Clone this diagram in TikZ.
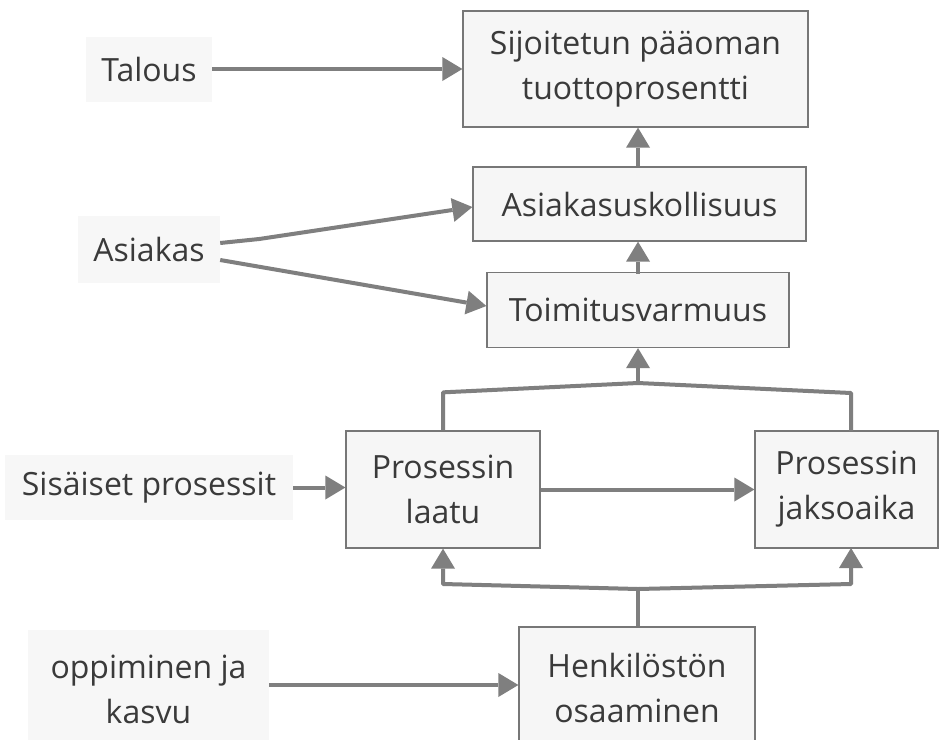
\documentclass[tikz,border=0pt]{standalone}
\usepackage{fontspec}
\setmainfont{Open Sans}
\usetikzlibrary{arrows.meta,calc}
\definecolor{linegray}{HTML}{7F7F7F}
\definecolor{boxline}{HTML}{777777}
\definecolor{boxfill}{HTML}{F6F6F6}
\definecolor{labelfill}{HTML}{F7F7F7}
\definecolor{txt}{HTML}{3A3A3A}
\begin{document}
\begin{tikzpicture}[x=1pt,y=-1pt,
  every node/.style={font=\fontsize{32}{45}\selectfont, text=txt, align=center, inner sep=0pt},
  box/.style={draw=boxline, line width=1.3pt, fill=boxfill},
  lbl/.style={fill=labelfill},
  conn/.style={draw=linegray, line width=4pt},
  arr/.style={conn, -{Triangle[length=20pt,width=24pt,line width=0pt]}}]
\clip (0,0) rectangle (941,739);
\fill[white] (0,0) rectangle (941,739);

% perspective labels
\node[lbl, minimum width=126pt, minimum height=65pt] (tal) at (149,69) {Talous};
\node[lbl, minimum width=142pt, minimum height=67pt] (asi) at (149,249.5) {Asiakas};
\node[lbl, minimum width=288pt, minimum height=65pt] (sis) at (149,487.5) {Sisäiset prosessit};
\node[lbl, minimum width=241pt, minimum height=119pt] (opp) at (148.5,689.5) {oppiminen ja\\kasvu};

% measures
\node[box, minimum width=345pt, minimum height=116pt] (sij) at (635.5,69) {Sijoitetun pääoman\\tuottoprosentti};
\node[box, minimum width=333pt, minimum height=74pt] (asu) at (639.5,204) {Asiakasuskollisuus};
\node[box, minimum width=302pt, minimum height=75pt] (toi) at (638,310) {Toimitusvarmuus};
\node[box, minimum width=194pt, minimum height=117pt] (laa) at (443,489.5) {Prosessin\\laatu};
\node[box, minimum width=183pt, minimum height=117pt] (jak) at (846.5,489.5) {Prosessin\\jaksoaika};
\node[box, minimum width=236pt, minimum height=122pt] (hen) at (637,688) {Henkilöstön\\osaaminen};

% branch points
\coordinate (jt) at (638,383);
\coordinate (jb) at (638,589);

% perspective arrows
\draw[arr] (tal.east) -- (sij.west |- tal.east);
\draw[arr] ($(asi.east)+(0,-6.5)$) -- ($(asi.east)+(39,-10.5)$) -- ($(asu.west)+(0,3)$);
\draw[arr] ($(asi.east)+(0,10.5)$) -- ($(toi.west)+(0,-4)$);
\draw[arr] (sis.east) -- (laa.west |- sis.east);
\draw[arr] (opp.east |- 0,685) -- (hen.west |- 0,685);

% chain between measures
\draw[arr] (asu.north -| toi.north) -- (sij.south -| toi.north);
\draw[arr] (toi.north |- asu.south) ++(0,32) -- ++(0,-32);
\draw[arr] (laa.east) -- (jak.west);

% top branch into Toimitusvarmuus
\draw[conn, line join=round] (laa.north) -- ++(0,-38) -- (jt) -- (851,393) -- (851,431);
\draw[arr] (jt) -- (toi.south);

% bottom branch from Henkilöstön osaaminen
\draw[conn, line join=round] (hen.north -| jb) -- (jb);
\draw[arr, line join=round] (jb) -- (laa.south |- 0,584) -- (laa.south);
\draw[arr, line join=round] (jb) -- (851,584) -- (851,548);
\end{tikzpicture}
\end{document}
